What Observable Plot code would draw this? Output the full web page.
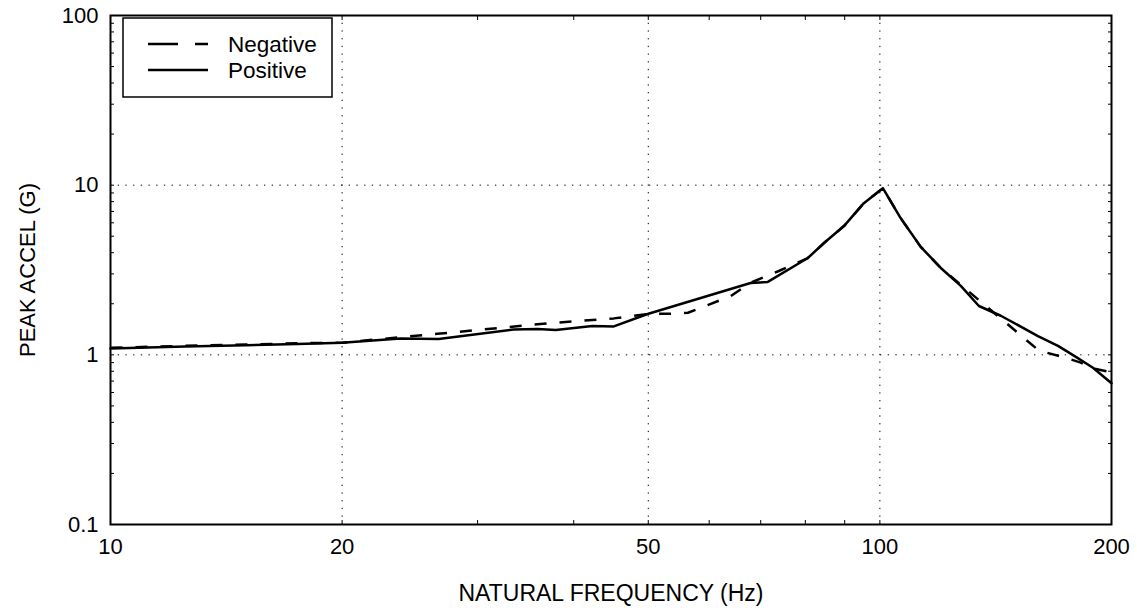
<!DOCTYPE html>
<html><head><meta charset="utf-8">
<script src="https://cdn.jsdelivr.net/npm/d3@7"></script>
<script src="https://cdn.jsdelivr.net/npm/@observablehq/plot@0.6"></script>
<style>
body{margin:0;background:#fff;font-family:"Liberation Sans",Arial,sans-serif;}
#wrap{position:relative;width:1137px;height:608px;}
</style></head><body><div id="wrap"></div>
<script>
// Negative (dashed) series
const negFreq  = [10, 12.5, 15, 17.5, 20, 26.6, 36.2, 45.1, 49.9, 53.8, 56.3, 64.0, 67.9, 73.9, 80.6, 84.6, 89.8, 95.3, 100.9, 106.4, 113, 120, 160.9, 174.5, 182.4, 189.7, 200];
const negAccel = [1.10, 1.13, 1.15, 1.17, 1.18, 1.33, 1.52, 1.64, 1.74, 1.75, 1.77, 2.22, 2.66, 3.12, 3.72, 4.56, 5.74, 7.83, 9.6, 6.4, 4.33, 3.25, 1.06, 0.96, 0.90, 0.83, 0.79];
// Positive (solid) series
const posFreq  = [10, 12.5, 15, 17.5, 20, 23.8, 26.7, 33.4, 35.9, 37.9, 42.3, 45.1, 49.9, 67.9, 71.5, 80.6, 84.6, 89.8, 95.3, 100.9, 106.4, 113, 120, 127.4, 134.5, 143.6, 160.5, 170.4, 178.7, 189.2, 200];
const posAccel = [1.09, 1.12, 1.14, 1.16, 1.18, 1.25, 1.24, 1.41, 1.42, 1.40, 1.48, 1.47, 1.74, 2.65, 2.69, 3.72, 4.56, 5.74, 7.83, 9.6, 6.4, 4.33, 3.25, 2.55, 1.94, 1.70, 1.29, 1.13, 0.99, 0.84, 0.68];

const seriesNames = ["Negative", "Positive"];
const xTickLabels = [10, 20, 50, 100, 200];
const yTickLabels = [0.1, 1, 10, 100];
const xMinorTicks = [20, 30, 40, 50, 60, 70, 80, 90, 100];
const yMinorTicks = [0.2,0.3,0.4,0.5,0.6,0.7,0.8,0.9,1,2,3,4,5,6,7,8,9,10,20,30,40,50,60,70,80,90];
const xGrid = [20, 50, 100];
const yGrid = [1, 10];
const xTitle = "NATURAL FREQUENCY (Hz)";
const yTitle = "PEAK ACCEL (G)";

const negData = negFreq.map((f, i) => ({series: seriesNames[0], f, a: negAccel[i]}));
const posData = posFreq.map((f, i) => ({series: seriesNames[1], f, a: posAccel[i]}));

const font = "'Liberation Sans', Arial, sans-serif";
const dash = "12,13";

const plot = Plot.plot({
  width: 1137, height: 608,
  marginLeft: 110, marginRight: 26, marginTop: 15, marginBottom: 84,
  style: {fontFamily: font, fontSize: "22px", color: "#000", background: "#fff"},
  x: {type: "log", domain: [10, 200]},
  y: {type: "log", domain: [0.1, 100]},
  marks: [
    Plot.ruleX(xGrid, {stroke: "#000", strokeWidth: 1, strokeDasharray: "1.3,6.4"}),
    Plot.ruleY(yGrid, {stroke: "#000", strokeWidth: 1, strokeDasharray: "1.3,6.4"}),
    Plot.line(negData, {x: "f", y: "a", stroke: "#000", strokeWidth: 2.5, strokeDasharray: dash, strokeLinecap: "butt"}),
    Plot.line(posData, {x: "f", y: "a", stroke: "#000", strokeWidth: 2.5}),
    Plot.axisX(xMinorTicks, {anchor: "bottom", tickSize: 4, dy: -4, fill: "none", label: null}),
    Plot.axisX(xMinorTicks, {anchor: "top", tickSize: 4, dy: 4, fill: "none", label: null}),
    Plot.axisY(yMinorTicks, {anchor: "left", tickSize: 4, dx: 4, fill: "none", label: null}),
    Plot.axisY(yMinorTicks, {anchor: "right", tickSize: 4, dx: -4, fill: "none", label: null}),
    Plot.axisX(xTickLabels, {anchor: "bottom", tickSize: 0, tickPadding: 14, tickFormat: d => String(d), label: null, fontSize: 22}),
    Plot.axisY(yTickLabels, {anchor: "left", tickSize: 0, tickPadding: 12, tickFormat: d => String(d), label: null, fontSize: 22}),
    Plot.frame({stroke: "#000", strokeWidth: 2}),
    Plot.text([xTitle], {frameAnchor: "bottom", dy: 69, fontSize: 23, textAnchor: "middle", lineAnchor: "middle"}),
    Plot.text([yTitle], {frameAnchor: "left", dx: -83, rotate: -90, fontSize: 22, textAnchor: "middle", lineAnchor: "middle"})
  ]
});

// Legend inside the plot area (top-left)
const svg = d3.select(plot);
const lg = svg.append("g").attr("font-family", font).attr("font-size", 22.5).attr("text-anchor", "start");
lg.append("rect").attr("x", 123).attr("y", 18).attr("width", 209).attr("height", 79)
  .attr("fill", "#fff").attr("stroke", "#000").attr("stroke-width", 1.5);
const legendRows = [
  {name: seriesNames[0], dash: "30,17", y: 44},
  {name: seriesNames[1], dash: null, y: 70}
];
legendRows.forEach(r => {
  const ln = lg.append("line").attr("x1", 148).attr("x2", 208).attr("y1", r.y).attr("y2", r.y)
    .attr("stroke", "#000").attr("stroke-width", 2.5);
  if (r.dash) ln.attr("stroke-dasharray", r.dash);
  lg.append("text").attr("x", 228).attr("y", r.y).attr("dy", "0.35em")
    .attr("text-anchor", "start").attr("fill", "#000").text(r.name);
});

document.getElementById("wrap").appendChild(plot);
</script></body></html>
